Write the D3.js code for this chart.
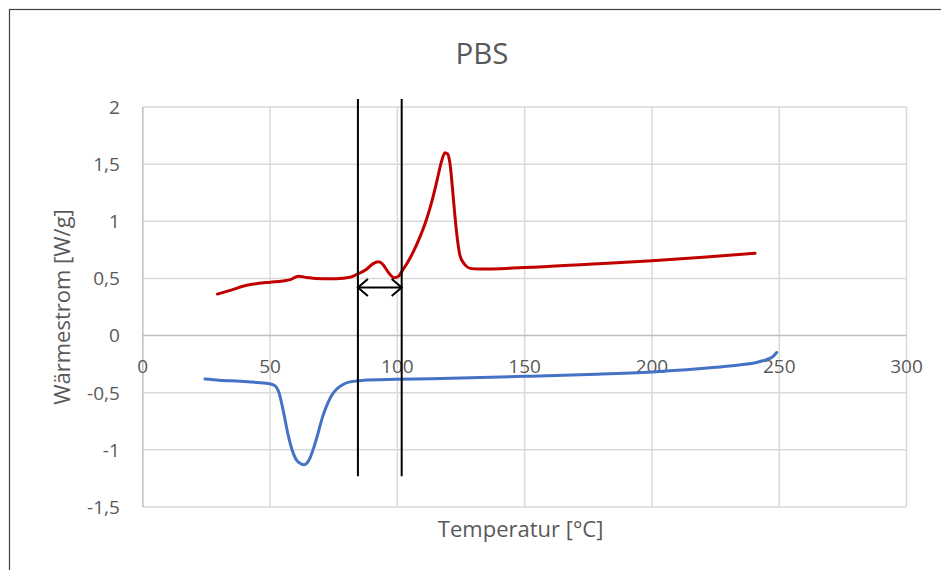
<!DOCTYPE html>
<meta charset="utf-8">
<title>PBS</title>
<style>

body {
  margin: 0;
  background: #fff;
}

text {
  font-family: "Open Sans", sans-serif;
  fill: #595959;
}

.grid line {
  stroke: #d9d9d9;
  stroke-width: 1.5;
}

.axis-line {
  stroke: #bfbfbf;
  stroke-width: 1.5;
}

.curve {
  fill: none;
  stroke-width: 3;
  stroke-linejoin: round;
  stroke-linecap: round;
}

.marker {
  stroke: #000;
  stroke-width: 2;
  fill: none;
}

</style>
<svg width="941" height="570"></svg>
<script src="https://cdn.jsdelivr.net/npm/d3@7"></script>
<script>

// heating curve (red), [temperature, heat flow]
var heating = [
  [29.3, 0.363], [35, 0.40], [40.8, 0.44], [45, 0.455], [50, 0.467], [55, 0.478],
  [58, 0.49], [61.1, 0.52], [64.4, 0.508], [70.9, 0.497], [76, 0.498], [81.4, 0.51],
  [84.6, 0.54], [87.9, 0.58], [90.5, 0.63], [92.5, 0.645], [94, 0.63], [96.4, 0.555],
  [98.8, 0.505], [100.5, 0.52], [101.7, 0.56], [104, 0.64], [106.2, 0.73], [109, 0.87],
  [111.5, 1.02], [113.5, 1.17], [115.4, 1.34], [117.3, 1.52], [118.7, 1.60], [119.7, 1.59],
  [120.7, 1.50], [121.6, 1.30], [122.6, 1.05], [123.6, 0.84], [124.6, 0.70], [126.5, 0.62],
  [128.5, 0.588], [132.4, 0.582], [150, 0.596], [175, 0.625], [200, 0.655], [220, 0.685],
  [240.5, 0.72]
];

// cooling curve (blue)
var cooling = [
  [24.4, -0.38], [30, -0.39], [38.2, -0.40], [45, -0.41], [50, -0.423], [52, -0.44],
  [53.5, -0.5], [55.2, -0.66], [57, -0.86], [58.5, -0.99], [60.4, -1.09], [62, -1.12],
  [63.3, -1.13], [64.5, -1.115], [65.7, -1.07], [67.3, -0.97], [68.9, -0.85], [70.5, -0.72],
  [72.2, -0.615], [74, -0.53], [76.2, -0.468], [78.5, -0.43], [81.4, -0.405], [86.6, -0.392],
  [100, -0.383], [125, -0.372], [150, -0.357], [175, -0.34], [200, -0.318], [225, -0.278],
  [235, -0.255], [241, -0.235], [245, -0.21], [247.5, -0.185], [249, -0.148]
];

var xTicks = [0, 50, 100, 150, 200, 250, 300],
    yTicks = [-1.5, -1, -0.5, 0, 0.5, 1, 1.5, 2];

// annotation: two vertical markers and the arrow between them
var markerX = [84.5, 101.7],
    markerY = [-1.23, 2.07],
    arrowY = 0.42;

var svg = d3.select("svg");

var x = d3.scaleLinear().domain([0, 300]).range([142.8, 906.5]),
    y = d3.scaleLinear().domain([-1.5, 2]).range([507, 107]);

var fmt = d3.formatLocale({decimal: ",", thousands: ".", grouping: [3], currency: ["", "€"], minus: "-"}).format("~g");

// chart frame
svg.append("rect")
    .attr("x", 9.5)
    .attr("y", 9.5)
    .attr("width", 960)
    .attr("height", 600)
    .attr("fill", "#fff")
    .attr("stroke", "#404040")
    .attr("stroke-width", 1.2);

var grid = svg.append("g").attr("class", "grid");

grid.selectAll(".h")
    .data(yTicks.filter(function(d) { return d !== 0; }))
  .enter().append("line")
    .attr("x1", x(0))
    .attr("x2", x(300))
    .attr("y1", function(d) { return y(d); })
    .attr("y2", function(d) { return y(d); });

grid.selectAll(".v")
    .data(xTicks.filter(function(d) { return d !== 0; }))
  .enter().append("line")
    .attr("x1", function(d) { return x(d); })
    .attr("x2", function(d) { return x(d); })
    .attr("y1", y(2))
    .attr("y2", y(-1.5));

svg.append("line")
    .attr("class", "axis-line")
    .attr("x1", x(0))
    .attr("x2", x(300))
    .attr("y1", y(0))
    .attr("y2", y(0));

svg.append("line")
    .attr("class", "axis-line")
    .attr("x1", x(0))
    .attr("x2", x(0))
    .attr("y1", y(2))
    .attr("y2", y(-1.5));

// tick labels
svg.append("g").selectAll("text")
    .data(yTicks)
  .enter().append("text")
    .attr("x", x(0) - 23)
    .attr("y", function(d) { return y(d); })
    .attr("dy", "0.36em")
    .attr("text-anchor", "end")
    .style("font-size", "19px")
    .text(fmt);

svg.append("g").selectAll("text")
    .data(xTicks)
  .enter().append("text")
    .attr("x", function(d) { return x(d); })
    .attr("y", y(0) + 37)
    .attr("text-anchor", "middle")
    .style("font-size", "19px")
    .text(fmt);

// titles
svg.append("text")
    .attr("x", 482)
    .attr("y", 64)
    .attr("text-anchor", "middle")
    .style("font-size", "29.5px")
    .text("PBS");

svg.append("text")
    .attr("x", (x(0) + x(300)) / 2 - 4)
    .attr("y", 537)
    .attr("text-anchor", "middle")
    .style("font-size", "22px")
    .text("Temperatur [°C]");

svg.append("text")
    .attr("transform", "translate(70," + (y(2) + y(-1.5)) / 2 + ") rotate(-90)")
    .attr("text-anchor", "middle")
    .style("font-size", "22px")
    .text("Wärmestrom [W/g]");

// curves
var line = d3.line()
    .x(function(d) { return x(d[0]); })
    .y(function(d) { return y(d[1]); })
    .curve(d3.curveMonotoneX);

svg.append("path")
    .datum(heating)
    .attr("class", "curve")
    .attr("stroke", "#c00000")
    .attr("d", line);

svg.append("path")
    .datum(cooling)
    .attr("class", "curve")
    .attr("stroke", "#4472c4")
    .attr("d", line);

// markers
svg.selectAll(".vmark")
    .data(markerX)
  .enter().append("line")
    .attr("class", "marker")
    .attr("x1", function(d) { return x(d); })
    .attr("x2", function(d) { return x(d); })
    .attr("y1", y(markerY[1]))
    .attr("y2", y(markerY[0]));

var ax0 = x(markerX[0]), ax1 = x(markerX[1]), ay = y(arrowY), head = 10;

svg.append("line")
    .attr("class", "marker")
    .attr("x1", ax0)
    .attr("x2", ax1)
    .attr("y1", ay)
    .attr("y2", ay);

svg.append("path")
    .attr("class", "marker")
    .attr("d", "M" + (ax0 + head) + "," + (ay - head * 0.85) + "L" + ax0 + "," + ay + "L" + (ax0 + head) + "," + (ay + head * 0.85) +
               "M" + (ax1 - head) + "," + (ay - head * 0.85) + "L" + ax1 + "," + ay + "L" + (ax1 - head) + "," + (ay + head * 0.85));

</script>
